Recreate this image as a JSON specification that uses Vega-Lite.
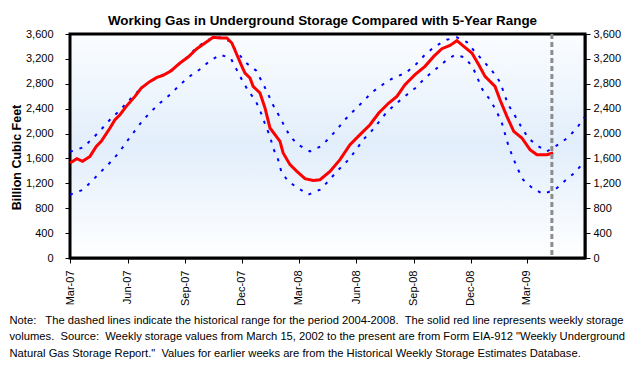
{
  "$schema": "https://vega.github.io/schema/vega-lite/v6.json",
  "width": 515,
  "height": 224,
  "autosize": {"type": "none"},
  "padding": {"left": 70, "top": 34, "right": 53, "bottom": 108},
  "background": "white",
  "config": {
    "font": "Liberation Sans",
    "view": {"stroke": null},
    "axis": {"grid": false, "domainColor": "black", "domainWidth": 2, "tickColor": "black", "tickWidth": 1, "labelColor": "black", "labelFont": "Liberation Sans", "labelFontSize": 11, "titleColor": "black"}
  },
  "title": {"text": "Working Gas in Underground Storage Compared with 5-Year Range", "font": "Liberation Sans", "fontSize": 13.4, "fontWeight": "bold", "color": "black", "anchor": "middle", "dx": -5, "offset": 1},
  "datasets": {
    "red": [
      {"date": "2007-03-01", "value": 1527}, {"date": "2007-03-12", "value": 1596}, {"date": "2007-03-21", "value": 1553},
      {"date": "2007-04-02", "value": 1633}, {"date": "2007-04-12", "value": 1794}, {"date": "2007-04-20", "value": 1874},
      {"date": "2007-05-04", "value": 2089}, {"date": "2007-05-12", "value": 2223}, {"date": "2007-05-20", "value": 2303},
      {"date": "2007-05-30", "value": 2437}, {"date": "2007-06-13", "value": 2597}, {"date": "2007-06-23", "value": 2732},
      {"date": "2007-07-07", "value": 2838}, {"date": "2007-07-18", "value": 2903}, {"date": "2007-07-28", "value": 2935},
      {"date": "2007-08-10", "value": 3010}, {"date": "2007-08-24", "value": 3134}, {"date": "2007-09-06", "value": 3230},
      {"date": "2007-09-20", "value": 3364}, {"date": "2007-10-03", "value": 3455}, {"date": "2007-10-16", "value": 3546},
      {"date": "2007-10-27", "value": 3535}, {"date": "2007-11-07", "value": 3535}, {"date": "2007-11-15", "value": 3455},
      {"date": "2007-11-23", "value": 3267}, {"date": "2007-12-01", "value": 3080}, {"date": "2007-12-06", "value": 2973},
      {"date": "2007-12-14", "value": 2893}, {"date": "2007-12-19", "value": 2758}, {"date": "2007-12-30", "value": 2652},
      {"date": "2008-01-07", "value": 2411}, {"date": "2008-01-15", "value": 2089}, {"date": "2008-01-23", "value": 1982},
      {"date": "2008-01-31", "value": 1874}, {"date": "2008-02-05", "value": 1688}, {"date": "2008-02-16", "value": 1500},
      {"date": "2008-02-27", "value": 1392}, {"date": "2008-03-11", "value": 1274}, {"date": "2008-03-24", "value": 1247},
      {"date": "2008-04-04", "value": 1258}, {"date": "2008-04-20", "value": 1392}, {"date": "2008-05-06", "value": 1580},
      {"date": "2008-05-22", "value": 1821}, {"date": "2008-06-07", "value": 1982}, {"date": "2008-06-23", "value": 2142},
      {"date": "2008-07-07", "value": 2330}, {"date": "2008-07-23", "value": 2491}, {"date": "2008-08-05", "value": 2597},
      {"date": "2008-08-18", "value": 2785}, {"date": "2008-09-03", "value": 2946}, {"date": "2008-09-19", "value": 3080},
      {"date": "2008-10-03", "value": 3240}, {"date": "2008-10-16", "value": 3364}, {"date": "2008-10-29", "value": 3417},
      {"date": "2008-11-09", "value": 3493}, {"date": "2008-11-20", "value": 3401}, {"date": "2008-12-03", "value": 3294},
      {"date": "2008-12-14", "value": 3107}, {"date": "2008-12-24", "value": 2919}, {"date": "2009-01-09", "value": 2758},
      {"date": "2009-01-17", "value": 2544}, {"date": "2009-01-28", "value": 2276}, {"date": "2009-02-08", "value": 2035},
      {"date": "2009-02-21", "value": 1929}, {"date": "2009-03-06", "value": 1741}, {"date": "2009-03-17", "value": 1660},
      {"date": "2009-04-02", "value": 1660}, {"date": "2009-04-12", "value": 1688}
    ],
    "upper": [
      {"date": "2007-03-01", "value": 1705}, {"date": "2007-03-22", "value": 1778}, {"date": "2007-04-07", "value": 1929},
      {"date": "2007-04-21", "value": 2078}, {"date": "2007-05-04", "value": 2223}, {"date": "2007-05-19", "value": 2367},
      {"date": "2007-06-02", "value": 2517}, {"date": "2007-06-15", "value": 2652}, {"date": "2007-06-30", "value": 2785},
      {"date": "2007-07-17", "value": 2893}, {"date": "2007-08-02", "value": 2973}, {"date": "2007-08-16", "value": 3053},
      {"date": "2007-09-06", "value": 3240}, {"date": "2007-09-20", "value": 3385}, {"date": "2007-10-08", "value": 3508},
      {"date": "2007-10-27", "value": 3546}, {"date": "2007-11-12", "value": 3481}, {"date": "2007-11-23", "value": 3311},
      {"date": "2007-12-08", "value": 3134}, {"date": "2007-12-24", "value": 3010}, {"date": "2008-01-10", "value": 2678},
      {"date": "2008-01-19", "value": 2475}, {"date": "2008-01-28", "value": 2314}, {"date": "2008-02-06", "value": 2142},
      {"date": "2008-02-16", "value": 1955}, {"date": "2008-02-29", "value": 1821}, {"date": "2008-03-19", "value": 1713},
      {"date": "2008-04-05", "value": 1794}, {"date": "2008-04-20", "value": 1938}, {"date": "2008-05-03", "value": 2089},
      {"date": "2008-05-15", "value": 2234}, {"date": "2008-05-28", "value": 2367}, {"date": "2008-06-12", "value": 2517},
      {"date": "2008-06-26", "value": 2662}, {"date": "2008-07-13", "value": 2785}, {"date": "2008-07-30", "value": 2893},
      {"date": "2008-08-19", "value": 2973}, {"date": "2008-09-05", "value": 3118}, {"date": "2008-09-19", "value": 3267},
      {"date": "2008-10-05", "value": 3401}, {"date": "2008-10-24", "value": 3508}, {"date": "2008-11-09", "value": 3546},
      {"date": "2008-11-25", "value": 3471}, {"date": "2008-12-08", "value": 3311}, {"date": "2008-12-22", "value": 3160},
      {"date": "2009-01-05", "value": 2999}, {"date": "2009-01-17", "value": 2829}, {"date": "2009-01-30", "value": 2464},
      {"date": "2009-02-09", "value": 2303}, {"date": "2009-02-19", "value": 2126}, {"date": "2009-03-03", "value": 1929},
      {"date": "2009-03-17", "value": 1810}, {"date": "2009-04-02", "value": 1713}, {"date": "2009-04-18", "value": 1810},
      {"date": "2009-05-05", "value": 1929}, {"date": "2009-05-20", "value": 2089}, {"date": "2009-06-01", "value": 2260}
    ],
    "lower": [
      {"date": "2007-03-01", "value": 1017}, {"date": "2007-03-22", "value": 1098}, {"date": "2007-04-07", "value": 1258},
      {"date": "2007-04-20", "value": 1392}, {"date": "2007-05-05", "value": 1543}, {"date": "2007-05-19", "value": 1703},
      {"date": "2007-05-31", "value": 1874}, {"date": "2007-06-13", "value": 2046}, {"date": "2007-06-25", "value": 2207},
      {"date": "2007-07-08", "value": 2346}, {"date": "2007-07-23", "value": 2491}, {"date": "2007-08-08", "value": 2625},
      {"date": "2007-08-23", "value": 2774}, {"date": "2007-09-06", "value": 2903}, {"date": "2007-09-24", "value": 3026},
      {"date": "2007-10-10", "value": 3160}, {"date": "2007-10-27", "value": 3267}, {"date": "2007-11-13", "value": 3214},
      {"date": "2007-12-01", "value": 2866}, {"date": "2007-12-11", "value": 2689}, {"date": "2007-12-23", "value": 2528},
      {"date": "2007-12-31", "value": 2346}, {"date": "2008-01-07", "value": 2154}, {"date": "2008-01-15", "value": 1955},
      {"date": "2008-01-20", "value": 1768}, {"date": "2008-01-28", "value": 1580}, {"date": "2008-02-02", "value": 1392},
      {"date": "2008-02-13", "value": 1231}, {"date": "2008-02-29", "value": 1125}, {"date": "2008-03-16", "value": 1017},
      {"date": "2008-04-04", "value": 1098}, {"date": "2008-04-17", "value": 1231}, {"date": "2008-05-01", "value": 1392},
      {"date": "2008-05-17", "value": 1553}, {"date": "2008-05-30", "value": 1713}, {"date": "2008-06-12", "value": 1901},
      {"date": "2008-06-26", "value": 2046}, {"date": "2008-07-08", "value": 2196}, {"date": "2008-07-20", "value": 2346},
      {"date": "2008-08-05", "value": 2491}, {"date": "2008-08-21", "value": 2625}, {"date": "2008-09-05", "value": 2742},
      {"date": "2008-09-19", "value": 2893}, {"date": "2008-10-05", "value": 3026}, {"date": "2008-10-21", "value": 3160},
      {"date": "2008-11-06", "value": 3267}, {"date": "2008-11-22", "value": 3224}, {"date": "2008-12-05", "value": 3053},
      {"date": "2008-12-20", "value": 2705}, {"date": "2009-01-01", "value": 2544}, {"date": "2009-01-11", "value": 2367},
      {"date": "2009-01-20", "value": 2170}, {"date": "2009-01-30", "value": 1821}, {"date": "2009-02-07", "value": 1607},
      {"date": "2009-02-15", "value": 1419}, {"date": "2009-02-23", "value": 1258}, {"date": "2009-03-11", "value": 1114},
      {"date": "2009-03-27", "value": 1029}, {"date": "2009-04-15", "value": 1098}, {"date": "2009-05-01", "value": 1242},
      {"date": "2009-05-16", "value": 1366}, {"date": "2009-06-01", "value": 1550}
    ],
    "marker": [{"date": "2009-04-10"}]
  },
  "layer": [
    {
      "data": {"values": [{}]},
      "mark": {"type": "rect", "stroke": "black", "strokeWidth": 3, "color": {"gradient": "linear", "x1": 0, "y1": 0, "x2": 0, "y2": 1, "stops": [{"offset": 0, "color": "#fbfdff"}, {"offset": 0.5, "color": "#e2eefb"}, {"offset": 1, "color": "#ffffff"}]}},
      "encoding": {}
    },
    {
      "encoding": {
        "x": {"field": "date", "type": "temporal",
          "scale": {"type": "utc", "domain": [{"year": 2007, "month": 3, "date": 1, "utc": true}, {"year": 2009, "month": 6, "date": 2, "utc": true}]},
          "axis": {
            "values": [
              {"year": 2007, "month": 3, "date": 1, "utc": true}, {"year": 2007, "month": 6, "date": 1, "utc": true},
              {"year": 2007, "month": 9, "date": 1, "utc": true}, {"year": 2007, "month": 12, "date": 1, "utc": true},
              {"year": 2008, "month": 3, "date": 1, "utc": true}, {"year": 2008, "month": 6, "date": 1, "utc": true},
              {"year": 2008, "month": 9, "date": 1, "utc": true}, {"year": 2008, "month": 12, "date": 1, "utc": true},
              {"year": 2009, "month": 3, "date": 1, "utc": true}
            ],
            "labelExpr": "utcFormat(datum.value, '%b-%y')", "labelAngle": 270, "labelAlign": "right", "labelBaseline": "middle",
            "tickSize": 5, "labelPadding": 7, "labelOverlap": false, "labelFlush": false,
            "title": [
              "Note:\u00a0\u00a0 The dashed lines indicate the historical range for the period 2004-2008.\u00a0 The solid red line represents weekly storage",
              "volumes.\u00a0 Source:\u00a0 Weekly storage values from March 15, 2002 to the present are from Form EIA-912 \"Weekly Underground",
              "Natural Gas Storage Report.\"\u00a0 Values for earlier weeks are from the Historical Weekly Storage Estimates Database."
            ],
            "titleFont": "Liberation Sans", "titleFontSize": 11.2, "titleFontWeight": "normal", "titleAlign": "left", "titleAnchor": "start",
            "titleBaseline": "middle", "titleX": -61, "titleY": 62, "titleLineHeight": 16.5
          }
        }
      },
      "layer": [
        {
          "data": {"name": "upper"},
          "mark": {"type": "line", "color": "#0000ff", "strokeWidth": 2, "strokeDash": [3, 7], "clip": true},
          "encoding": {
            "y": {"field": "value", "type": "quantitative",
              "scale": {"domain": [0, 3600], "nice": false},
              "axis": {"orient": "left", "values": [0, 400, 800, 1200, 1600, 2000, 2400, 2800, 3200, 3600], "format": ",d", "tickSize": 5, "labelPadding": 12,
                "title": "Billion Cubic Feet", "titleFont": "Liberation Sans", "titleFontSize": 12.5, "titleFontWeight": "bold",
                "titleAngle": 270, "titleAlign": "center", "titleBaseline": "middle", "titleX": -54, "titleY": 123}
            }
          }
        },
        {
          "data": {"name": "lower"},
          "mark": {"type": "line", "color": "#0000ff", "strokeWidth": 2, "strokeDash": [3, 7], "clip": true},
          "encoding": {
            "y": {"field": "value", "type": "quantitative",
              "axis": {"orient": "right", "values": [0, 400, 800, 1200, 1600, 2000, 2400, 2800, 3200, 3600], "format": ",d", "tickSize": 5, "labelPadding": 3, "title": null}
            }
          }
        },
        {
          "data": {"name": "red"},
          "mark": {"type": "line", "color": "#ff0000", "strokeWidth": 3, "clip": true},
          "encoding": {
            "y": {"field": "value", "type": "quantitative", "axis": null}
          }
        },
        {
          "data": {"name": "marker"},
          "mark": {"type": "rule", "color": "#8c8c8c", "strokeWidth": 3, "strokeDash": [5, 3]},
          "encoding": {}
        }
      ],
      "resolve": {"axis": {"y": "independent"}}
    }
  ],
  "resolve": {"axis": {"y": "independent"}}
}
